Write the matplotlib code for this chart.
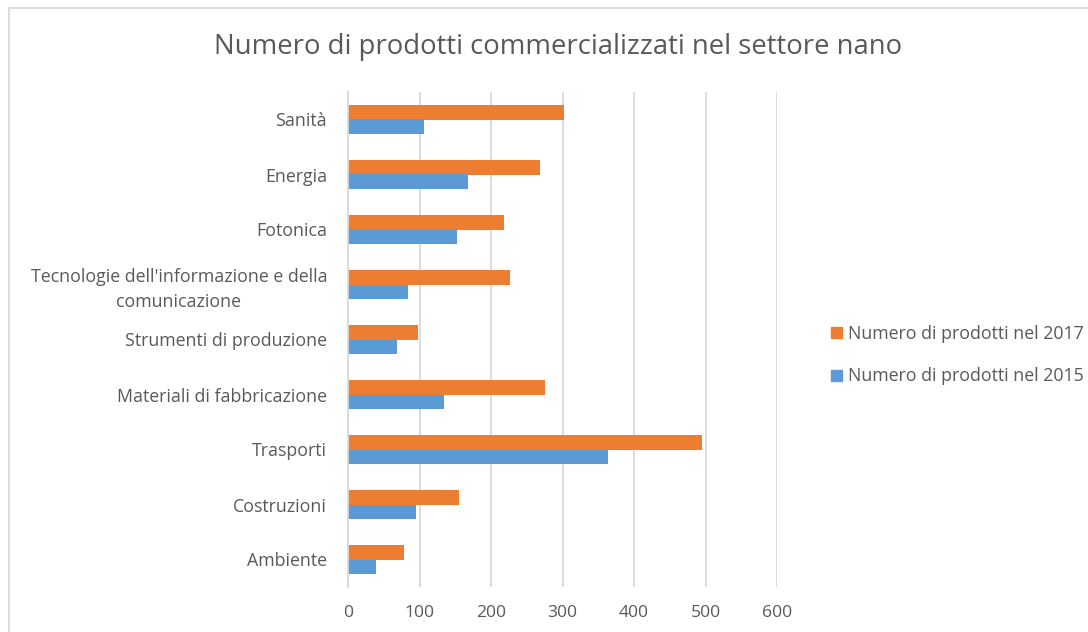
import numpy as np
import matplotlib
matplotlib.use('Agg')
import matplotlib.pyplot as plt
from matplotlib.patches import Rectangle
from matplotlib.lines import Line2D

plt.rcParams['font.family'] = ['Open Sans', 'DejaVu Sans']

categories = [
    'Ambiente',
    'Costruzioni',
    'Trasporti',
    'Materiali di fabbricazione',
    'Strumenti di produzione',
    "Tecnologie dell'informazione e della\ncomunicazione",
    'Fotonica',
    'Energia',
    'Sanità',
]
prodotti_2017 = [79, 155, 495, 276, 98, 226, 218, 268, 302]
prodotti_2015 = [39, 95, 364, 134, 68, 84, 152, 168, 106]

label_2017 = 'Numero di prodotti nel 2017'
label_2015 = 'Numero di prodotti nel 2015'
title = 'Numero di prodotti commercializzati nel settore nano'

orange = '#ED7D31'
blue = '#5B9BD5'
grey_text = '#595959'
grid_col = '#D9D9D9'

fig = plt.figure(figsize=(10.88, 6.32), dpi=100)
ax = fig.add_axes([348 / 1088, 1 - 587 / 632, (777 - 348) / 1088, (587 - 92) / 632])

y = np.arange(len(categories))
h = 0.255
ax.barh(y + h / 2, prodotti_2017, height=h, color=orange, label=label_2017)
ax.barh(y - h / 2, prodotti_2015, height=h, color=blue, label=label_2015)

ax.set_xlim(0, 600)
ax.set_ylim(-0.5, len(categories) - 0.5)
ax.set_xticks(np.arange(0, 601, 100))
ax.set_yticks(y)
ax.set_yticklabels(categories, ha='right', multialignment='center', linespacing=1.45)
ax.tick_params(axis='y', length=0, pad=15, labelsize=12.8, labelcolor=grey_text)
ax.tick_params(axis='x', length=0, pad=13, labelsize=12.6, labelcolor=grey_text)

ax.grid(axis='x', color=grid_col, linewidth=1.3)
ax.set_axisbelow(True)
for s in ['top', 'right', 'bottom']:
    ax.spines[s].set_visible(False)
ax.spines['left'].set_color(grid_col)
ax.spines['left'].set_linewidth(1.3)

handles = [Rectangle((0, 0), 1, 1, color=orange), Rectangle((0, 0), 1, 1, color=blue)]
fig.legend(handles, [label_2017, label_2015], loc='center left',
           bbox_to_anchor=(815 / 1088, 1 - 355 / 632), frameon=False,
           handlelength=0.6, handleheight=0.6, handletextpad=0.35,
           labelspacing=1.4, fontsize=12.8, labelcolor=grey_text)

fig.text(558 / 1088, 1 - 47 / 632, title, ha='center', va='center',
         fontsize=19.8, color=grey_text)

# chart area border (cropped at right and bottom)
fig.add_artist(Line2D([9 / 1088, 9 / 1088], [0, 1 - 8 / 632],
                      transform=fig.transFigure, color=grid_col, linewidth=1.3))
fig.add_artist(Line2D([9 / 1088, 1], [1 - 8 / 632, 1 - 8 / 632],
                      transform=fig.transFigure, color=grid_col, linewidth=1.3))

fig.savefig('out.png', dpi=100)
